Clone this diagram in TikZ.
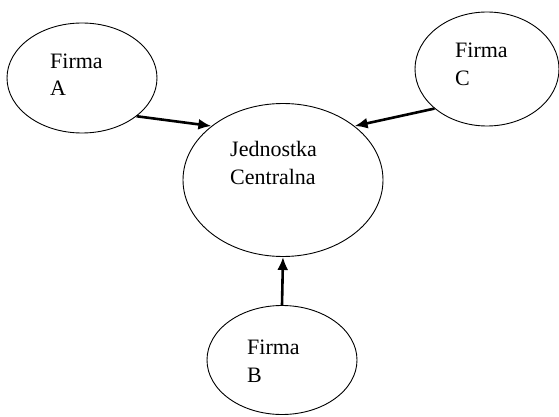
\documentclass[tikz,border=0pt]{standalone}
\usepackage{fontspec}
\setmainfont{Liberation Serif}
\usetikzlibrary{arrows.meta, shapes.geometric, positioning}

\begin{document}
\begin{tikzpicture}[x=1pt,y=-1pt,
        firm/.style={ellipse,draw,line width=0.9pt,inner sep=0pt},
        txt/.style={anchor=base west,align=left,inner sep=0pt,
                    font=\fontsize{22}{28}\selectfont},
        arr/.style={-{Latex[length=13pt,width=11pt]},line width=2.6pt}
      ]
        \useasboundingbox (0,0) rectangle (559,417);
        \node[firm,minimum width=150pt,minimum height=110pt] (A) at (82,78) {};
        \node[firm,minimum width=144pt,minimum height=114pt] (C) at (487,69) {};
        \node[firm,minimum width=200pt,minimum height=153pt] (J) at (283,180) {};
        \node[firm,minimum width=150pt,minimum height=109pt] (B) at (282,360) {};
        \node[txt] (Atxt) at (50,96) {Firma\\A};
        \node[txt] (Ctxt) at (455,86) {Firma\\C};
        \node[txt] (Jtxt) at (230,184) {Jednostka\\Centralna};
        \node[txt] (Btxt) at (247,382) {Firma\\B};
        % firms to the central unit
        \draw[arr] (A.-35) -- (J.143);
        \draw[arr] (C.-143) -- (J.37);
        \draw[arr] (B.north) -- (J.south);
      \end{tikzpicture}
\end{document}
